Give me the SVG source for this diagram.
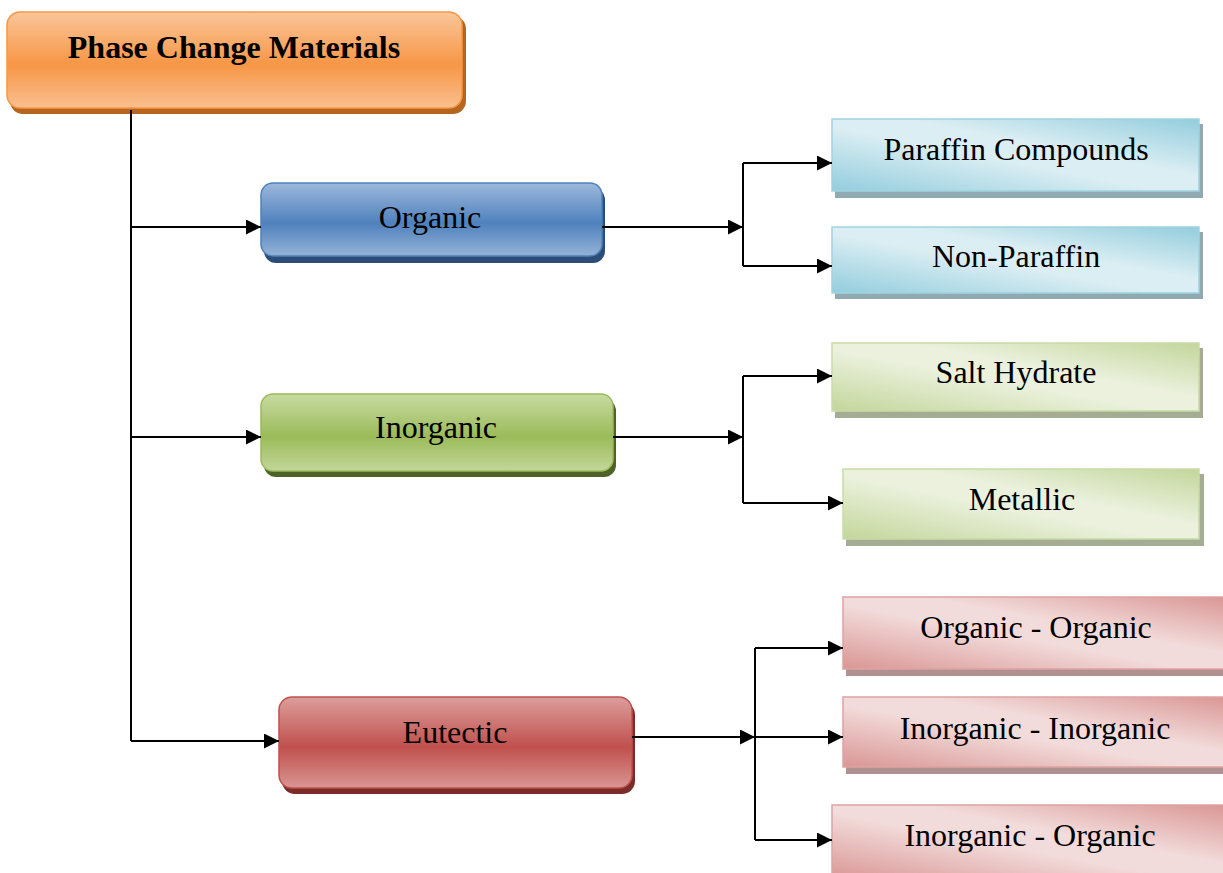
<svg xmlns="http://www.w3.org/2000/svg" width="1223" height="873" viewBox="0 0 1223 873">
<defs>
<linearGradient id="gOr" x1="0" y1="0" x2="0" y2="1"><stop offset="0" stop-color="#fac69a"/><stop offset="0.55" stop-color="#f79646"/><stop offset="1" stop-color="#fac090"/></linearGradient>
<linearGradient id="gBl" x1="0" y1="0" x2="0" y2="1"><stop offset="0" stop-color="#9db8db"/><stop offset="0.55" stop-color="#4f81bd"/><stop offset="1" stop-color="#95b3d7"/></linearGradient>
<linearGradient id="gGr" x1="0" y1="0" x2="0" y2="1"><stop offset="0" stop-color="#c8dba3"/><stop offset="0.55" stop-color="#9bbb59"/><stop offset="1" stop-color="#c3d69b"/></linearGradient>
<linearGradient id="gRd" x1="0" y1="0" x2="0" y2="1"><stop offset="0" stop-color="#dc9e9c"/><stop offset="0.55" stop-color="#c0504d"/><stop offset="1" stop-color="#d99694"/></linearGradient>
<linearGradient id="lBl" x1="0" y1="1" x2="1" y2="0"><stop offset="0" stop-color="#93cddd"/><stop offset="0.45" stop-color="#dbeef3"/><stop offset="0.6" stop-color="#dbeef3"/><stop offset="1" stop-color="#93cddd"/></linearGradient>
<linearGradient id="lGr" x1="0" y1="1" x2="1" y2="0"><stop offset="0" stop-color="#c3d69b"/><stop offset="0.45" stop-color="#ebf1dd"/><stop offset="0.6" stop-color="#ebf1dd"/><stop offset="1" stop-color="#c3d69b"/></linearGradient>
<linearGradient id="lRd" x1="0" y1="1" x2="1" y2="0"><stop offset="0" stop-color="#d99694"/><stop offset="0.45" stop-color="#f2dcdb"/><stop offset="0.6" stop-color="#f2dcdb"/><stop offset="1" stop-color="#d99694"/></linearGradient>
<marker id="arr" markerWidth="15" markerHeight="15" refX="15" refY="7.5" orient="auto" markerUnits="userSpaceOnUse"><path d="M0,0 L15,7.5 L0,15 z" fill="#000"/></marker>
</defs>
<style>
text{font-family:"Liberation Serif","Times New Roman",serif;font-size:32px;fill:#000;text-anchor:middle}
.b{font-weight:bold}
.con{fill:none;stroke:#000;stroke-width:2}
.arw{marker-end:url(#arr)}
</style>
<g id="n-root">
<rect x="10" y="16" width="456" height="98" rx="13" fill="#b5651d"/>
<rect x="7" y="12" width="455" height="96" rx="13" fill="url(#gOr)" stroke="#f79646" stroke-width="1.5"/>
<text class="b" x="234" y="58">Phase Change Materials</text>
</g>
<g id="n-organic">
<rect x="264" y="188" width="341" height="75" rx="12" fill="#2c4d75"/>
<rect x="261" y="183" width="341" height="73" rx="12" fill="url(#gBl)" stroke="#4f81bd" stroke-width="1.5"/>
<text x="430" y="228">Organic</text>
</g>
<g id="n-inorganic">
<rect x="264" y="399" width="352" height="78" rx="12" fill="#4f6228"/>
<rect x="261" y="394" width="352" height="77" rx="12" fill="url(#gGr)" stroke="#9bbb59" stroke-width="1.5"/>
<text x="436" y="438">Inorganic</text>
</g>
<g id="n-eutectic">
<rect x="282" y="702" width="353" height="92" rx="13" fill="#7a2c2a"/>
<rect x="279" y="697" width="353" height="91" rx="13" fill="url(#gRd)" stroke="#c0504d" stroke-width="1.5"/>
<text x="455" y="743">Eutectic</text>
</g>
<g id="n-paraffin">
<rect x="835" y="124" width="368" height="74" fill="#91a9b1"/>
<rect x="832" y="119" width="367" height="72" fill="url(#lBl)" stroke="#9fd3e0" stroke-width="1.5"/>
<text x="1016" y="160">Paraffin Compounds</text>
</g>
<g id="n-nonparaffin">
<rect x="835" y="232" width="368" height="67" fill="#91a9b1"/>
<rect x="832" y="227" width="367" height="66" fill="url(#lBl)" stroke="#9fd3e0" stroke-width="1.5"/>
<text x="1016" y="267">Non-Paraffin</text>
</g>
<g id="n-salt">
<rect x="835" y="348" width="368" height="70" fill="#a4ad94"/>
<rect x="832" y="343" width="367" height="68" fill="url(#lGr)" stroke="#c8dba5" stroke-width="1.5"/>
<text x="1016" y="383">Salt Hydrate</text>
</g>
<g id="n-metallic">
<rect x="846" y="474" width="358" height="72" fill="#a4ad94"/>
<rect x="843" y="469" width="356" height="70" fill="url(#lGr)" stroke="#c8dba5" stroke-width="1.5"/>
<text x="1022" y="510">Metallic</text>
</g>
<g id="n-oo">
<rect x="846" y="602" width="380" height="74" fill="#b09090"/>
<rect x="843" y="597" width="385" height="72" fill="url(#lRd)" stroke="#dea3a1" stroke-width="1.5"/>
<text x="1036" y="638">Organic - Organic</text>
</g>
<g id="n-ii">
<rect x="846" y="702" width="380" height="72" fill="#b09090"/>
<rect x="843" y="697" width="385" height="70" fill="url(#lRd)" stroke="#dea3a1" stroke-width="1.5"/>
<text x="1035" y="739">Inorganic - Inorganic</text>
</g>
<g id="n-io">
<rect x="832" y="805" width="396" height="75" fill="url(#lRd)" stroke="#dea3a1" stroke-width="1.5"/>
<text x="1030" y="846">Inorganic - Organic</text>
</g>
<g id="connectors">
<path class="con" d="M131,110 V741"/>
<path class="con arw" d="M131,227 H261"/>
<path class="con arw" d="M131,437 H261"/>
<path class="con arw" d="M131,741 H279"/>
<path class="con arw" d="M602,227 H743"/>
<path class="con" d="M743,163 V266"/>
<path class="con arw" d="M743,163 H832"/>
<path class="con arw" d="M743,266 H832"/>
<path class="con arw" d="M613,437 H743"/>
<path class="con" d="M743,376 V503"/>
<path class="con arw" d="M743,376 H832"/>
<path class="con arw" d="M743,503 H843"/>
<path class="con arw" d="M632,737 H755"/>
<path class="con" d="M755,648 V840"/>
<path class="con arw" d="M755,648 H843"/>
<path class="con arw" d="M755,737 H843"/>
<path class="con arw" d="M755,840 H832"/>
</g>
</svg>
